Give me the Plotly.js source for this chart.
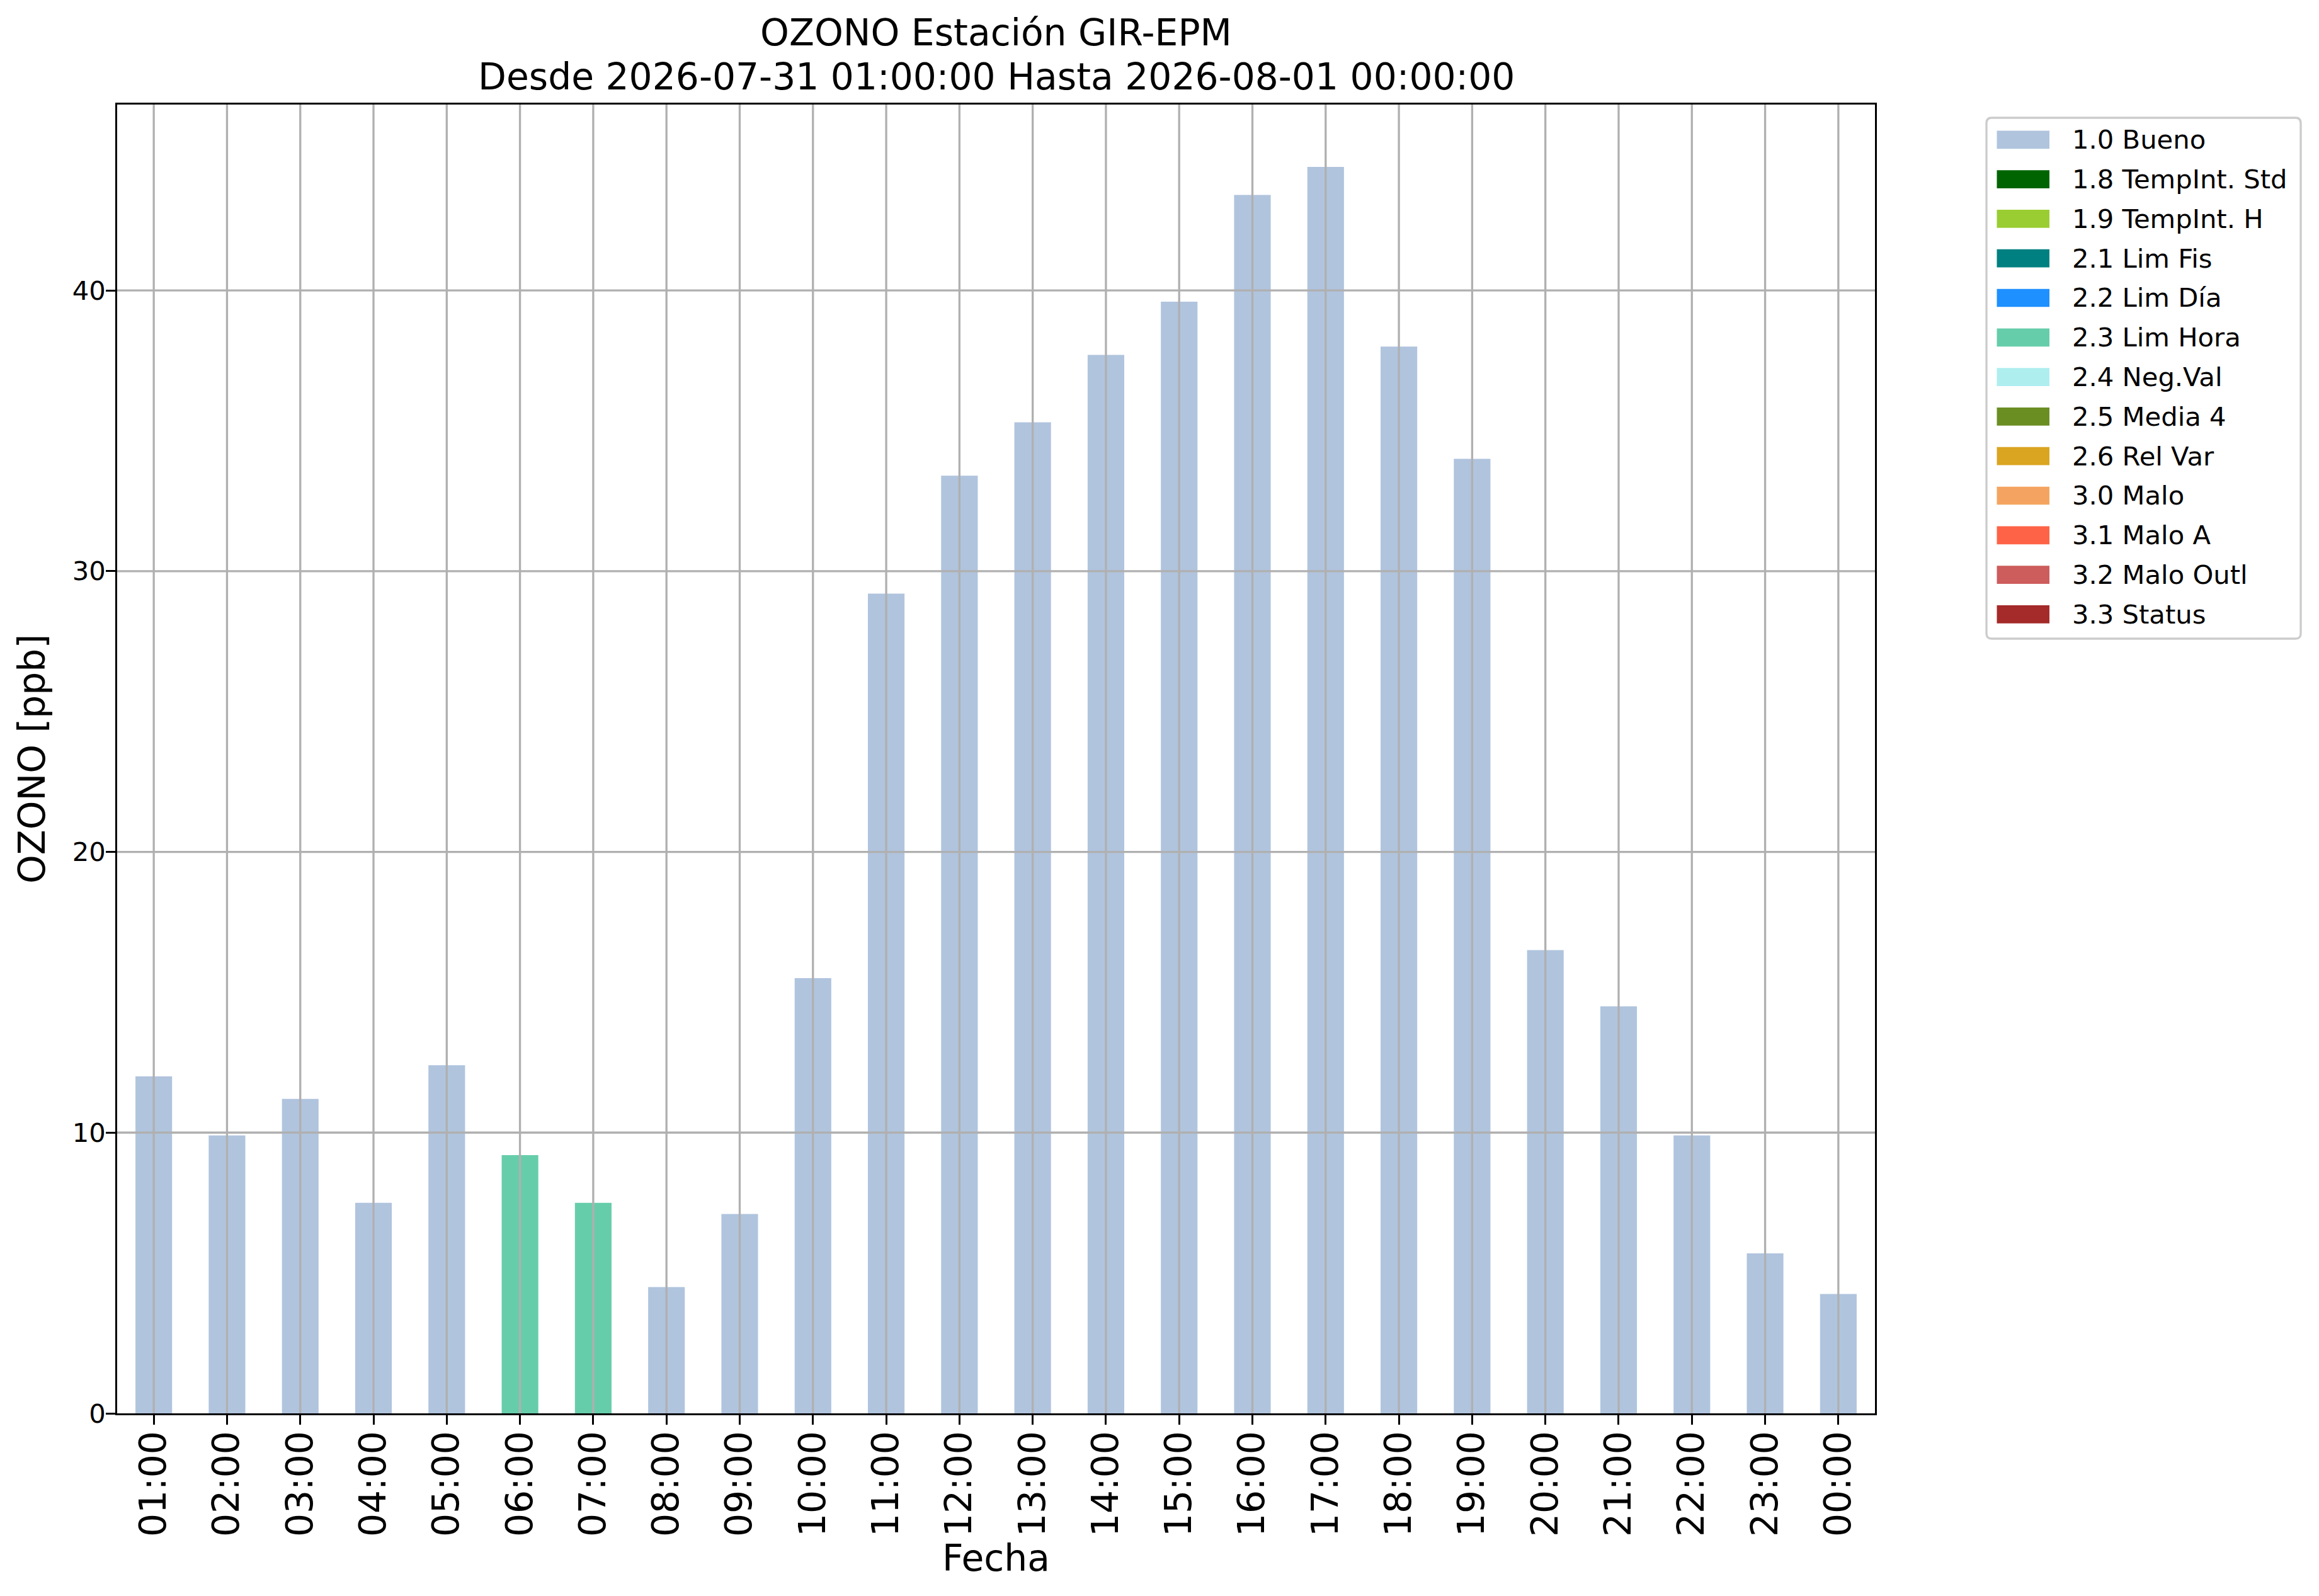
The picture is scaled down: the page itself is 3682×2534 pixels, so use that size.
<!DOCTYPE html>
<html>
<head>
<meta charset="utf-8">
<script src="https://cdn.plot.ly/plotly-3.0.1.min.js"></script>
<style>
html,body{margin:0;padding:0;background:#ffffff;}
#chart{width:3682px;height:2534px;}
</style>
</head>
<body>
<div id="chart"></div>
<script>
// ---- data ----
const hours = ['01:00','02:00','03:00','04:00','05:00','06:00','07:00','08:00','09:00','10:00','11:00','12:00',
               '13:00','14:00','15:00','16:00','17:00','18:00','19:00','20:00','21:00','22:00','23:00','00:00'];
const ozone = [12.0, 9.9, 11.2, 7.5, 12.4, 9.2, 7.5, 4.5, 7.1, 15.5, 29.2, 33.4,
               35.3, 37.7, 39.6, 43.4, 44.4, 38.0, 34.0, 16.5, 14.5, 9.9, 5.7, 4.25];
const hourFlags = ['1.0','1.0','1.0','1.0','1.0','2.3','2.3','1.0','1.0','1.0','1.0','1.0',
                   '1.0','1.0','1.0','1.0','1.0','1.0','1.0','1.0','1.0','1.0','1.0','1.0'];
const flagCodes = ['1.0','1.8','1.9','2.1','2.2','2.3','2.4','2.5','2.6','3.0','3.1','3.2','3.3'];
const flagNames = ['1.0 Bueno','1.8 TempInt. Std','1.9 TempInt. H','2.1 Lim Fis','2.2 Lim Día','2.3 Lim Hora',
                   '2.4 Neg.Val','2.5 Media 4','2.6 Rel Var','3.0 Malo','3.1 Malo A','3.2 Malo Outl','3.3 Status'];
const flagColors = ['#B0C4DE','#006400','#9ACD32','#008080','#1E90FF','#66CDAA',
                    '#AFEEEE','#6B8E23','#DAA520','#F4A460','#FF6347','#CD5C5C','#A52A2A'];
const yTicks = [0, 10, 20, 30, 40];
const titleLines = ['OZONO Estación GIR-EPM', 'Desde 2026-07-31 01:00:00 Hasta 2026-08-01 00:00:00'];

// ---- geometry / style ----
const FONT = 'DejaVu Sans, Verdana, sans-serif';
const W = 3682, H = 2534;
const M = {l: 186, r: 705, t: 166, b: 290};
const PW = W - M.l - M.r, PH = H - M.t - M.b;
const px2x = p => (p - M.l) / PW;
const py2y = p => (H - M.b - p) / PH;
const LW = 3.33;          // 0.8pt at 300 dpi
const GRID = '#b0b0b0';

// ---- traces: one bar series per quality flag ----
const traces = flagCodes.map((code, k) => ({
  type: 'bar',
  name: flagNames[k],
  x: hours,
  y: ozone.map((v, i) => hourFlags[i] === code ? v : null),
  width: 0.5,
  marker: {color: flagColors[k], line: {width: 0}},
  showlegend: false,
  hovertemplate: '%{x}: %{y}<extra>' + flagNames[k] + '</extra>'
}));

// ---- grid drawn above bars (as in the reference) ----
const shapes = [];
hours.forEach((h, i) => shapes.push({
  type: 'line', xref: 'x', yref: 'paper', x0: i, x1: i, y0: 0, y1: 1,
  line: {color: GRID, width: LW}, layer: 'above'
}));
yTicks.filter(v => v > 0).forEach(v => shapes.push({
  type: 'line', xref: 'paper', yref: 'y', x0: 0, x1: 1, y0: v, y1: v,
  line: {color: GRID, width: LW}, layer: 'above'
}));

// ---- legend box (manual, matplotlib style) ----
const annotations = [];
const LG = {x0: 3154, x1: 3653, y0: 187, y1: 1014, px0: 3170.5, px1: 3254, pc0: 221.8, step: 62.8, ph: 28.7, tx: 3288};
(function () {
  const r = 8.3, rx = r / PW, ry = r / PH;
  const X0 = px2x(LG.x0), X1 = px2x(LG.x1), YT = py2y(LG.y0), YB = py2y(LG.y1);
  const path = `M${X0 + rx},${YB} L${X1 - rx},${YB} Q${X1},${YB} ${X1},${YB + ry} L${X1},${YT - ry} Q${X1},${YT} ${X1 - rx},${YT} ` +
               `L${X0 + rx},${YT} Q${X0},${YT} ${X0},${YT - ry} L${X0},${YB + ry} Q${X0},${YB} ${X0 + rx},${YB} Z`;
  shapes.push({type: 'path', xref: 'paper', yref: 'paper', path: path,
               line: {color: '#cccccc', width: LW}, fillcolor: 'rgba(255,255,255,0.8)', layer: 'above'});
  flagNames.forEach((name, k) => {
    const c = LG.pc0 + LG.step * k;
    shapes.push({type: 'rect', xref: 'paper', yref: 'paper',
                 x0: px2x(LG.px0), x1: px2x(LG.px1), y0: py2y(c + LG.ph / 2), y1: py2y(c - LG.ph / 2),
                 fillcolor: flagColors[k], line: {width: 0}, layer: 'above'});
    annotations.push({xref: 'paper', yref: 'paper', x: px2x(LG.tx), y: py2y(c), xanchor: 'left', yanchor: 'middle',
                      text: name, showarrow: false, font: {family: FONT, size: 41.7, color: '#000'}});
  });
})();

// second title line
annotations.push({xref: 'paper', yref: 'paper', x: 0.5, y: py2y(122), xanchor: 'center', yanchor: 'middle',
                  text: titleLines[1], showarrow: false, font: {family: FONT, size: 58.3, color: '#000'}});

const axisCommon = {
  showgrid: false, zeroline: false, showline: true, mirror: true,
  linecolor: '#000', linewidth: LW,
  ticks: 'outside', ticklen: 14.6, tickwidth: LW, tickcolor: '#000',
  automargin: false
};

const layout = {
  width: W, height: H,
  margin: M,
  paper_bgcolor: '#ffffff', plot_bgcolor: '#ffffff',
  font: {family: FONT, color: '#000'},
  barmode: 'overlay',
  showlegend: false,
  title: {
    text: titleLines[0],
    font: {family: FONT, size: 58.3, color: '#000'},
    xref: 'paper', x: 0.5, xanchor: 'center',
    yref: 'container', y: 1 - 52 / H, yanchor: 'middle'
  },
  xaxis: Object.assign({}, axisCommon, {
    type: 'category', range: [-0.5, hours.length - 0.5],
    tickangle: -90, tickfont: {family: FONT, size: 58.3, color: '#000'},
    ticklabelstandoff: -13,
    title: {text: 'Fecha', font: {family: FONT, size: 58.3, color: '#000'}, standoff: 10}
  }),
  yaxis: Object.assign({}, axisCommon, {
    range: [0, 46.62], tickmode: 'array', tickvals: yTicks,
    tickfont: {family: FONT, size: 41.7, color: '#000'},
    ticklabelstandoff: -8,
    title: {text: 'OZONO [ppb]', font: {family: FONT, size: 58.3, color: '#000'}, standoff: 25}
  }),
  shapes: shapes,
  annotations: annotations
};

Plotly.newPlot('chart', traces, layout, {displayModeBar: false, responsive: false});
</script>
</body>
</html>
